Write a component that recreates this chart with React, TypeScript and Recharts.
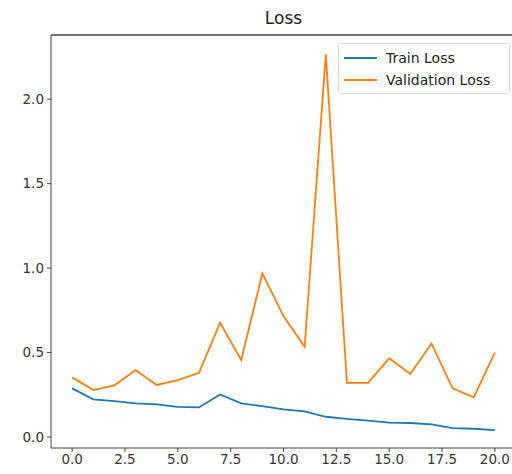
import { LineChart, Line, XAxis, YAxis, ReferenceLine } from 'recharts';

const epochs = [0, 1, 2, 3, 4, 5, 6, 7, 8, 9, 10, 11, 12, 13, 14, 15, 16, 17, 18, 19, 20];
const trainLoss = [0.288, 0.223, 0.213, 0.199, 0.193, 0.179, 0.175, 0.252, 0.199, 0.183, 0.164, 0.152, 0.12, 0.108, 0.097, 0.085, 0.083, 0.075, 0.053, 0.049, 0.041];
const valLoss = [0.353, 0.278, 0.306, 0.396, 0.308, 0.337, 0.38, 0.676, 0.456, 0.969, 0.716, 0.534, 2.265, 0.321, 0.321, 0.466, 0.373, 0.554, 0.288, 0.235, 0.499];
const xTicks = [0, 2.5, 5, 7.5, 10, 12.5, 15, 17.5, 20];
const yTicks = [0, 0.5, 1.0, 1.5, 2.0];

const BLUE = '#1f77b4';
const ORANGE = '#ff7f0e';
const AXIS = '#444';
const FONT = '"DejaVu Sans", sans-serif';
const Y_MIN = -0.065;
const Y_MAX = 2.38;

export default function App() {
    const chartData = epochs.map((epoch, i) => ({
        epoch,
        train: trainLoss[i],
        val: valLoss[i],
    }));

    const tickStyle = { fontSize: 13.5, fill: '#333', fontFamily: FONT };

    return (
        <div style={{ position: 'absolute', left: 0, top: 0, width: 512, height: 474, overflow: 'hidden', background: '#fff' }}>
            <div style={{ position: 'absolute', left: 51, width: 465, top: 8, textAlign: 'center', fontFamily: FONT, fontSize: 17, color: '#222' }}>
                Loss
            </div>
            <LineChart width={516} height={474} data={chartData} margin={{ top: 35, right: 0, bottom: 0, left: 0 }}>
                <XAxis
                    dataKey="epoch"
                    type="number"
                    domain={[-1, 21]}
                    ticks={xTicks}
                    tickFormatter={(v: number) => v.toFixed(1)}
                    allowDataOverflow
                    height={26}
                    stroke={AXIS}
                    tick={tickStyle}
                    tickSize={4}
                    tickMargin={2}
                />
                <YAxis
                    type="number"
                    domain={[Y_MIN, Y_MAX]}
                    ticks={yTicks}
                    tickFormatter={(v: number) => v.toFixed(1)}
                    allowDataOverflow
                    width={51}
                    stroke={AXIS}
                    tick={tickStyle}
                    tickSize={4}
                    tickMargin={3}
                />
                {/* top spine */}
                <ReferenceLine y={Y_MAX} stroke={AXIS} strokeWidth={1.5} ifOverflow="visible" />
                <Line dataKey="train" stroke={BLUE} strokeWidth={1.8} dot={false} isAnimationActive={false} />
                <Line dataKey="val" stroke={ORANGE} strokeWidth={1.8} dot={false} isAnimationActive={false} />
            </LineChart>
            <div
                style={{
                    position: 'absolute',
                    left: 338,
                    top: 43,
                    width: 172,
                    height: 51,
                    border: '1px solid #ddd',
                    borderRadius: 3,
                    background: 'rgba(255,255,255,0.85)',
                    fontFamily: FONT,
                    fontSize: 14,
                    color: '#222',
                    boxSizing: 'border-box',
                    padding: '3px 0 0 5px',
                }}
            >
                {[
                    { name: 'Train Loss', color: BLUE },
                    { name: 'Validation Loss', color: ORANGE },
                ].map(item => (
                    <div key={item.name} style={{ display: 'flex', alignItems: 'center', height: 22 }}>
                        <span style={{ display: 'inline-block', width: 33, height: 2, background: item.color, marginRight: 9 }} />
                        {item.name}
                    </div>
                ))}
            </div>
        </div>
    );
}
